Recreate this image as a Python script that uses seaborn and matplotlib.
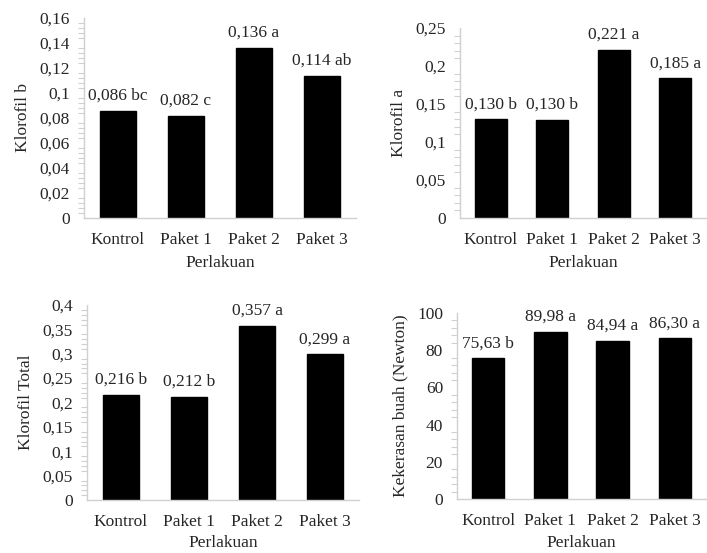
import matplotlib
matplotlib.use("Agg")
import matplotlib.pyplot as plt
import seaborn as sns
import pandas as pd
from matplotlib.ticker import AutoMinorLocator, FixedLocator

sns.set_style("white")
plt.rcParams['font.family'] = ['Liberation Serif', 'DejaVu Serif']

categories = ["Kontrol", "Paket 1", "Paket 2", "Paket 3"]

klorofil_b = [0.086, 0.082, 0.136, 0.114]
klorofil_b_labels = ["0,086 bc", "0,082 c", "0,136 a", "0,114 ab"]

klorofil_a = [0.130, 0.129, 0.221, 0.184]
klorofil_a_labels = ["0,130 b", "0,130 b", "0,221 a", "0,185 a"]

klorofil_total = [0.216, 0.212, 0.357, 0.299]
klorofil_total_labels = ["0,216 b", "0,212 b", "0,357 a", "0,299 a"]

kekerasan = [75.63, 89.98, 84.94, 86.30]
kekerasan_labels = ["75,63 b", "89,98 a", "84,94 a", "86,30 a"]

yticks_b = [0, 0.02, 0.04, 0.06, 0.08, 0.10, 0.12, 0.14, 0.16]
ytick_labels_b = ["0", "0,02", "0,04", "0,06", "0,08", "0,1", "0,12", "0,14", "0,16"]
yticks_a = [0, 0.05, 0.10, 0.15, 0.20, 0.25]
ytick_labels_a = ["0", "0,05", "0,1", "0,15", "0,2", "0,25"]
yticks_t = [0, 0.05, 0.10, 0.15, 0.20, 0.25, 0.30, 0.35, 0.40]
ytick_labels_t = ["0", "0,05", "0,1", "0,15", "0,2", "0,25", "0,3", "0,35", "0,4"]
yticks_k = [0, 20, 40, 60, 80, 100]
ytick_labels_k = ["0", "20", "40", "60", "80", "100"]

W, H = 707, 553
fig = plt.figure(figsize=(W / 100, H / 100), dpi=100)

AX_COLOR = "#d0d0d0"
FS = 12.5
PX = 72 / 100  # points per pixel


def px_axes(left, top, right, bottom):
    return fig.add_axes([left / W, 1 - bottom / H, (right - left) / W, (bottom - top) / H])


def panel(ax, values, labels, yticks, yticklabels, ylabel, xlab_off):
    df = pd.DataFrame({"cat": categories, "val": values})
    sns.barplot(data=df, x="cat", y="val", color="black", width=0.52,
                saturation=1, ax=ax, edgecolor="black")
    n = len(categories)
    ax.set_xlim(-0.5, n - 0.5)
    ax.set_ylim(yticks[0], yticks[-1])
    ax.set_yticks(yticks)
    ax.set_yticklabels(yticklabels, fontsize=FS)
    ax.yaxis.set_minor_locator(AutoMinorLocator(5))
    ax.set_xticks([i + 0.5 for i in range(n - 1)])
    ax.set_xticklabels([""] * (n - 1))
    ax.xaxis.set_minor_locator(FixedLocator(list(range(n))))
    for i, c in enumerate(categories):
        ax.annotate(c, xy=(i, 0), xycoords=ax.get_xaxis_transform(),
                    xytext=(0, -22 * PX), textcoords="offset points",
                    ha="center", va="center", fontsize=FS)
    ax.set_xlabel("")
    ax.annotate("Perlakuan", xy=(0.5, 0), xycoords="axes fraction",
                xytext=(0, -xlab_off * PX), textcoords="offset points",
                ha="center", va="center", fontsize=FS)
    ax.set_ylabel(ylabel, fontsize=FS, labelpad=6)
    for s in ["top", "right"]:
        ax.spines[s].set_visible(False)
    for s in ["left", "bottom"]:
        ax.spines[s].set_color(AX_COLOR)
        ax.spines[s].set_linewidth(1.0)
    ax.tick_params(axis="y", which="major", direction="inout", length=8,
                   color=AX_COLOR, width=1.0, pad=6)
    ax.tick_params(axis="y", which="minor", direction="out", length=4,
                   color=AX_COLOR, width=0.8, left=True)
    ax.tick_params(axis="x", which="major", direction="out", length=5,
                   color=AX_COLOR, width=1.0)
    ax.tick_params(axis="x", which="minor", direction="in", length=3,
                   color=AX_COLOR, width=1.0, bottom=True)
    for i, (v, lab) in enumerate(zip(values, labels)):
        ax.annotate(lab, xy=(i, v), xytext=(0, 5), textcoords="offset points",
                    ha="center", va="bottom", fontsize=FS)
    ax.set_facecolor("white")


ax1 = px_axes(84, 18, 356, 218)
panel(ax1, klorofil_b, klorofil_b_labels, yticks_b, ytick_labels_b, "Klorofil b", 45)

ax2 = px_axes(460, 28, 706, 218)
panel(ax2, klorofil_a, klorofil_a_labels, yticks_a, ytick_labels_a, "Klorofil a", 45)

ax3 = px_axes(87, 305, 359, 500)
panel(ax3, klorofil_total, klorofil_total_labels, yticks_t, ytick_labels_t, "Klorofil Total", 43)

ax4 = px_axes(457, 313, 706, 499)
panel(ax4, kekerasan, kekerasan_labels, yticks_k, ytick_labels_k, "Kekerasan buah (Newton)", 44)

fig.savefig("out.png", dpi=100, facecolor="white")
